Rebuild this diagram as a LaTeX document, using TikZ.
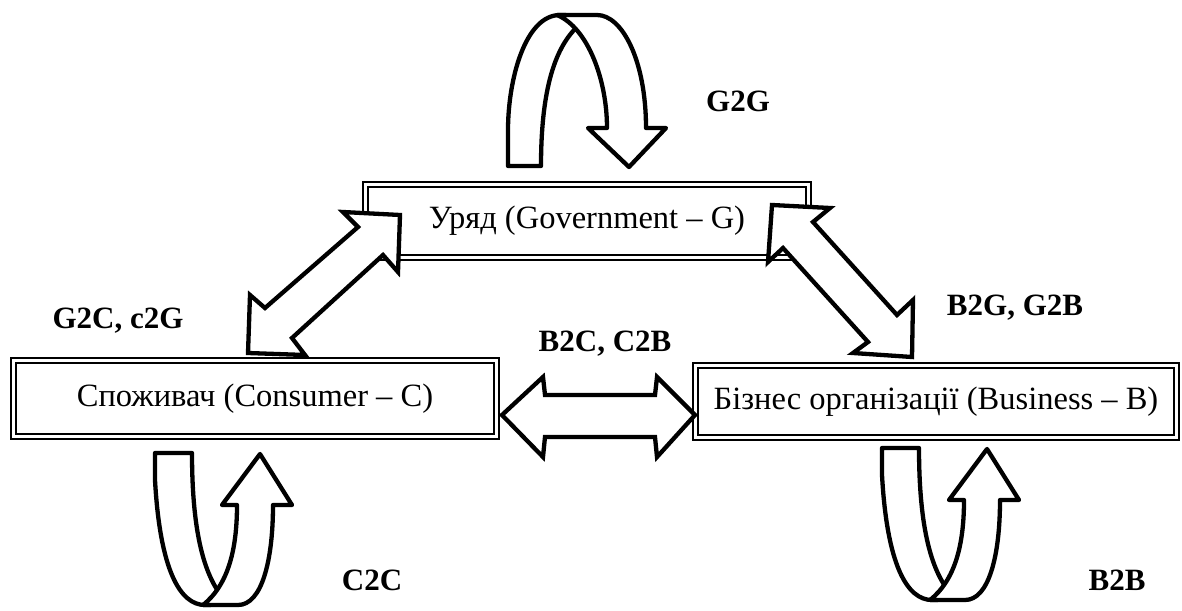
\documentclass[tikz,border=0pt]{standalone}
\usepackage{fontspec}
\setmainfont{Liberation Serif}
\tikzset{
  box/.style={draw, double, line width=2pt, double distance=3pt, rectangle,
    inner sep=0pt, outer sep=0pt, font=\fontsize{32.5}{36}\selectfont},
  blockarrow/.style={draw, fill=white, line width=4.3pt, line join=miter},
  uturnband/.style={draw, fill=white, line width=4.3pt, line join=round},
  lbl/.style={font=\fontsize{31}{34}\selectfont\bfseries, inner sep=0pt}
}
\begin{document}
\begin{tikzpicture}[x=1pt,y=-1pt]
\useasboundingbox (0,0) rectangle (1182,610);
% boxes
\node[box, minimum width=443pt, minimum height=73pt] (G) at (587,221) {Уряд (Government – G)};
\node[box, minimum width=483pt, minimum height=76pt] (C) at (255,398.5) {Споживач (Consumer – C)};
\node[box, minimum width=481pt, minimum height=72pt] (B) at (936,401.5) {Бізнес організації (Business – B)};
% double block arrows
\draw[blockarrow] (400,215) -- (343,212) -- (358,227) -- (265,308) -- (250,295) -- (248,353) -- (305,355) -- (292,338) -- (383,255) -- (398,272) -- cycle;
\draw[blockarrow] (772,205) -- (830,208) -- (813,222) -- (897,315) -- (913,300) -- (912,357) -- (853,353) -- (868,342) -- (783,248) -- (768,262) -- cycle;
\draw[blockarrow] (502,415) -- (543,377) -- (545,395) -- (655,395) -- (657,377) -- (695,415) -- (657,457) -- (655,437) -- (545,437) -- (543,457) -- cycle;
% G2G u-turn
\draw[uturnband] (508,166) -- (541,166) .. controls (541,95) and (553,50) .. (577,27) -- (585,18) -- (565,15) -- (560,15) .. controls (525,15) and (508,80) .. (508,130) -- cycle;
\draw[uturnband] (557,15) -- (597,15) .. controls (622,15) and (646,60) .. (646,128) -- (666,128) -- (629,167) -- (588,128) -- (607,128) .. controls (607,80) and (588,28) .. (557,15) -- cycle;
% C2C and B2B u-turns
\foreach \dx/\dy in {0/0, 727/-5}{
\begin{scope}[shift={(\dx,\dy)}]
\draw[uturnband] (155,453) -- (192,453) .. controls (192,525) and (202,575) .. (225,600) -- (210,605) -- (205,605) .. controls (180,605) and (160,570) .. (155,480) -- cycle;
\draw[uturnband] (203,605) -- (238,605) .. controls (262,605) and (273,560) .. (273,505) -- (292,505) -- (260,454) -- (222,505) -- (237,505) .. controls (237,550) and (228,585) .. (203,605) -- cycle;
\end{scope}}
% labels
\node[lbl] (lGG) at (738,101) {G2G};
\node[lbl] (lGC) at (118,321) {G2C, c2G};
\node[lbl] (lBC) at (605,344) {B2C, C2B};
\node[lbl] (lBG) at (1015,308) {B2G, G2B};
\node[lbl] (lCC) at (372,580) {C2C};
\node[lbl] (lBB) at (1117,580) {B2B};
\end{tikzpicture}
\end{document}
